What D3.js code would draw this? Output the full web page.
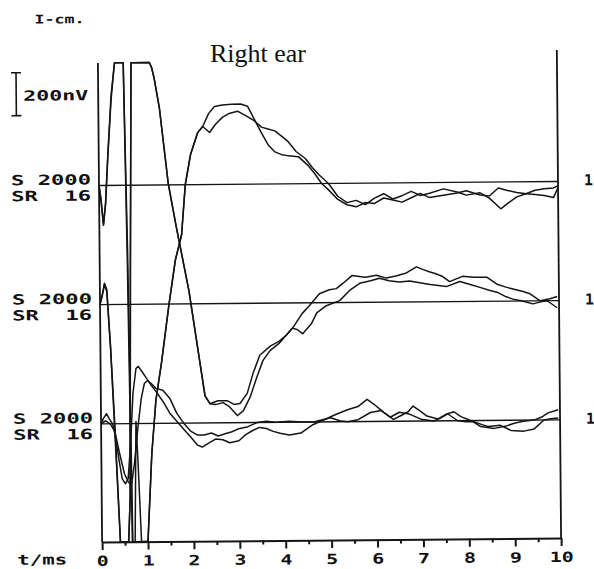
<!DOCTYPE html>
<html lang="en">
<head>
<meta charset="utf-8">
<title>Right ear</title>
<script src="https://cdn.jsdelivr.net/npm/d3@7"></script>
<style>
  body { margin: 0; background: #fff; }
  .mono { font-family: "DejaVu Sans Mono", monospace; font-weight: bold; fill: #111; white-space: pre; }
  .trace { fill: none; stroke: #151515; stroke-width: 1.5; stroke-linejoin: round; }
  .frame line, .frame path { stroke: #151515; }
</style>
</head>
<body>
<svg id="chart" width="594" height="569"></svg>
<script>
// time in ms, amplitude in nV (relative to each channel's baseline)
var rowLabels = ["S 2000", "SR  16"];
var xTicks = [0, 1, 2, 3, 4, 5, 6, 7, 8, 9, 10];
var scaleBarNV = 200;

var row1a = [[0,0],[0.04,-70],[0.09,-186],[0.14,-90],[0.2,140],[0.28,400],[0.36,700],[0.55,700],[0.6,-300],[0.66,-2000],[0.95,-2000],[1.0,-1680],[1.1,-1250],[1.2,-1000],[1.33,-825],[1.5,-560],[1.65,-350],[1.79,-233],[1.88,0],[2.0,140],[2.16,242],[2.27,270],[2.42,242],[2.55,280],[2.7,312],[2.85,330],[3.03,340],[3.2,320],[3.4,294],[3.55,265],[3.69,256],[3.84,247],[4.0,220],[4.13,196],[4.3,150],[4.5,117],[4.65,75],[4.8,40],[5.0,0],[5.2,-60],[5.4,-90],[5.6,-80],[5.8,-100],[6.0,-70],[6.2,-50],[6.4,-75],[6.6,-60],[6.8,-40],[7.0,-60],[7.2,-50],[7.5,-30],[7.8,-45],[8.0,-60],[8.3,-50],[8.5,-75],[8.75,-125],[8.9,-100],[9.1,-70],[9.3,-56],[9.5,-40],[9.7,-33],[9.9,-30],[10,-20]];
var row1b = [[0,0],[0.04,-60],[0.09,-180],[0.14,-80],[0.2,150],[0.28,420],[0.36,700],[0.55,700],[0.61,-300],[0.67,-2000],[0.72,-2000],[0.76,-1100],[0.8,-1300],[0.86,-2000],[0.95,-2000],[1.0,-1680],[1.1,-1250],[1.2,-1000],[1.33,-825],[1.5,-560],[1.65,-350],[1.79,-233],[1.88,0],[2.0,140],[2.16,242],[2.27,270],[2.4,330],[2.53,363],[2.7,370],[2.9,373],[3.1,373],[3.25,363],[3.4,300],[3.54,242],[3.7,180],[3.84,149],[4.0,135],[4.13,130],[4.35,126],[4.56,84],[4.7,47],[4.85,0],[5.0,-30],[5.2,-75],[5.4,-100],[5.6,-110],[5.8,-90],[6.0,-95],[6.2,-70],[6.4,-80],[6.6,-90],[6.8,-70],[7.0,-50],[7.2,-70],[7.5,-60],[7.8,-50],[8.0,-40],[8.3,-60],[8.5,-65],[8.7,-28],[8.9,-40],[9.1,-50],[9.3,-56],[9.5,-60],[9.7,-65],[9.9,-75],[10,-28]];

var row2a = [[0,0],[0.05,47],[0.1,100],[0.15,70],[0.22,-190],[0.3,-560],[0.4,-1165],[0.47,-1300],[0.58,-1300],[0.62,-900],[0.67,200],[0.72,1300],[1.12,1300],[1.17,1100],[1.22,1053],[1.33,913],[1.51,559],[1.68,354],[1.94,61],[2.16,-266],[2.27,-429],[2.38,-466],[2.5,-470],[2.66,-461],[2.8,-480],[2.97,-522],[3.1,-500],[3.25,-438],[3.4,-345],[3.54,-266],[3.7,-220],[3.9,-186],[4.05,-150],[4.19,-117],[4.3,-125],[4.41,-144],[4.6,-98],[4.72,-47],[4.93,-14],[5.22,9],[5.44,56],[5.66,89],[5.9,100],[6.09,112],[6.3,100],[6.53,93],[6.75,98],[6.97,89],[7.2,80],[7.55,70],[7.84,93],[8.05,80],[8.28,65],[8.5,50],[8.65,42],[8.85,20],[9.0,9],[9.2,0],[9.43,-14],[9.6,-5],[9.74,0],[9.96,-33]];
var row2b = [[0,0],[0.05,40],[0.1,93],[0.15,60],[0.22,-200],[0.3,-600],[0.4,-1200],[0.47,-1300],[0.58,-1300],[0.62,-900],[0.67,200],[0.72,1300],[1.12,1300],[1.17,1100],[1.22,1053],[1.33,913],[1.51,559],[1.68,354],[1.94,61],[2.16,-266],[2.27,-429],[2.38,-466],[2.55,-452],[2.75,-452],[2.9,-470],[3.03,-466],[3.19,-419],[3.32,-326],[3.47,-242],[3.7,-200],[3.9,-177],[4.05,-150],[4.19,-117],[4.4,-50],[4.56,-14],[4.78,42],[5.0,60],[5.15,65],[5.3,90],[5.5,126],[5.65,121],[5.79,117],[6.03,126],[6.24,112],[6.45,121],[6.68,135],[6.9,163],[7.05,150],[7.18,140],[7.32,130],[7.47,117],[7.62,93],[7.9,117],[8.15,112],[8.43,112],[8.65,79],[8.85,65],[9.0,56],[9.2,45],[9.37,33],[9.59,0],[9.8,9],[9.96,19]];

var row3a = [[0,0],[0.06,28],[0.12,47],[0.18,23],[0.25,0],[0.3,-47],[0.38,-163],[0.45,-256],[0.52,-280],[0.58,-256],[0.64,-93],[0.7,140],[0.77,256],[0.82,266],[0.9,242],[1.0,210],[1.1,177],[1.2,149],[1.35,103],[1.5,47],[1.65,9],[1.8,-28],[1.95,-65],[2.1,-103],[2.2,-112],[2.35,-93],[2.5,-75],[2.65,-79],[2.8,-93],[3.0,-84],[3.15,-56],[3.3,-37],[3.45,-23],[3.6,-28],[3.75,-42],[3.9,-51],[4.1,-60],[4.35,-51],[4.6,-14],[4.85,9],[5.1,33],[5.37,56],[5.6,70],[5.8,103],[5.95,80],[6.16,42],[6.37,9],[6.55,28],[6.68,42],[6.8,70],[6.95,47],[7.1,23],[7.34,9],[7.55,33],[7.77,0],[7.95,-5],[8.1,-5],[8.27,-28],[8.56,-37],[8.8,-28],[9.0,-14],[9.2,-5],[9.43,0],[9.6,14],[9.74,33],[9.96,47]];
var row3b = [[0,0],[0.1,14],[0.2,0],[0.3,-37],[0.4,-140],[0.5,-233],[0.58,-270],[0.65,-289],[0.72,-186],[0.8,-23],[0.88,117],[0.95,186],[1.02,200],[1.1,186],[1.2,163],[1.35,154],[1.5,117],[1.65,47],[1.8,0],[1.95,-37],[2.1,-56],[2.25,-56],[2.4,-47],[2.55,-61],[2.7,-51],[2.85,-42],[3.0,-28],[3.2,-19],[3.4,0],[3.6,5],[3.8,0],[4.1,5],[4.4,0],[4.63,0],[4.8,9],[5.0,19],[5.2,5],[5.37,0],[5.6,9],[5.87,42],[6.1,51],[6.3,19],[6.5,42],[6.72,33],[6.97,9],[7.25,0],[7.4,14],[7.55,33],[7.69,42],[7.84,19],[8.12,-5],[8.3,-19],[8.43,-28],[8.7,-23],[8.93,-47],[9.21,-51],[9.43,-42],[9.65,0],[9.8,5],[9.96,9]];

var rowOffsets = [1110, 555, 0];
var rows = [[row1a, row1b], [row2a, row2b], [row3a, row3b]];

var svg = d3.select("#chart");
var x = d3.scaleLinear().domain([0, 10]).range([100, 559]);
var y = d3.scaleLinear().domain([-550, 1680]).range([540, 61]).clamp(true);

// title sits on top of the (slightly tilted) scan
svg.append("text")
  .attr("x", 210).attr("y", 62)
  .style("font-family", "'Liberation Serif', 'Times New Roman', serif")
  .style("font-size", "26px")
  .style("fill", "#111")
  .text("Right ear");

var g = svg.append("g").attr("transform", "rotate(-0.5,330,300)");

g.append("text").attr("class", "mono")
  .attr("x", 37).attr("y", 21)
  .attr("textLength", 50).attr("lengthAdjust", "spacingAndGlyphs")
  .style("font-size", "12px")
  .text("I-cm.");

// scale bar: 200 nV tall
var barTop = 70;
var barBot = barTop + (y(0) - y(scaleBarNV));
g.append("line").attr("x1", 18).attr("x2", 18).attr("y1", barTop).attr("y2", barBot)
  .attr("stroke", "#151515").attr("stroke-width", 1.6);
[barTop, barBot].forEach(function(v) {
  g.append("line").attr("x1", 13).attr("x2", 23).attr("y1", v).attr("y2", v)
    .attr("stroke", "#151515").attr("stroke-width", 1.6);
});
g.append("text").attr("class", "mono")
  .attr("x", 25).attr("y", 98)
  .attr("textLength", 65).attr("lengthAdjust", "spacingAndGlyphs")
  .style("font-size", "14px")
  .text("200nV");

// frame
var frame = g.append("g").attr("class", "frame");
frame.append("line").attr("x1", x(0)).attr("x2", x(0)).attr("y1", y(1680)).attr("y2", y(-550))
  .attr("stroke-width", 1.8);
frame.append("line").attr("x1", x(10)).attr("x2", x(10)).attr("y1", 52).attr("y2", y(-550))
  .attr("stroke-width", 1.8);

// channel baselines and labels
rowOffsets.forEach(function(off) {
  frame.append("line").attr("x1", x(0)).attr("x2", x(10))
    .attr("y1", y(off)).attr("y2", y(off)).attr("stroke-width", 1.4);
  g.append("text").attr("class", "mono")
    .attr("x", 12).attr("y", y(off) - 1)
    .attr("textLength", 80).attr("lengthAdjust", "spacingAndGlyphs")
    .style("font-size", "14px").text(rowLabels[0]);
  g.append("text").attr("class", "mono")
    .attr("x", 12).attr("y", y(off) + 15)
    .attr("textLength", 80).attr("lengthAdjust", "spacingAndGlyphs")
    .style("font-size", "14px").text(rowLabels[1]);
  g.append("text").attr("class", "mono")
    .attr("x", 585).attr("y", y(off) + 4)
    .style("font-size", "15px").text("1");
});

// time axis
var axis = g.append("g").attr("transform", "translate(0," + y(-550) + ")");
axis.call(d3.axisBottom(x).tickValues(xTicks).tickSize(8).tickSizeOuter(0).tickPadding(6)
  .tickFormat(d3.format("d")));
axis.select(".domain").attr("stroke", "#151515").attr("stroke-width", 2);
axis.selectAll(".tick line").attr("stroke", "#151515").attr("stroke-width", 2);
axis.selectAll(".tick text")
  .attr("class", "mono")
  .style("font-size", "14px")
  .attr("textLength", function(d) { return String(d).length * 12; })
  .attr("lengthAdjust", "spacingAndGlyphs");
var minor = g.append("g").attr("transform", "translate(0," + y(-550) + ")");
minor.call(d3.axisBottom(x).tickValues(d3.range(0.5, 10, 1)).tickSize(4).tickSizeOuter(0).tickFormat(""));
minor.select(".domain").remove();
minor.selectAll(".tick line").attr("stroke", "#151515").attr("stroke-width", 2);

g.append("text").attr("class", "mono")
  .attr("x", 15).attr("y", 562)
  .attr("textLength", 50).attr("lengthAdjust", "spacingAndGlyphs")
  .style("font-size", "14px").text("t/ms");

// traces
rows.forEach(function(pair, i) {
  var line = d3.line()
    .x(function(d) { return x(d[0]); })
    .y(function(d) { return y(rowOffsets[i] + d[1]); });
  pair.forEach(function(tr) {
    g.append("path").attr("class", "trace").attr("d", line(tr));
  });
});
</script>
</body>
</html>
